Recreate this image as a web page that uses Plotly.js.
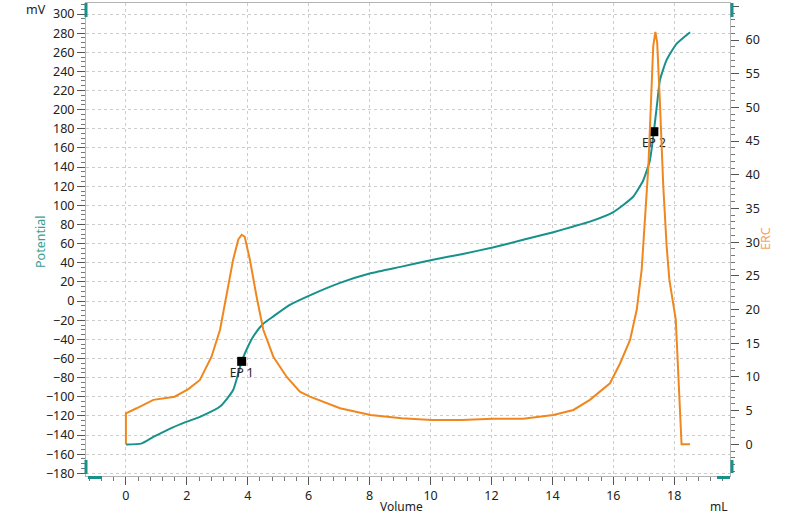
<!DOCTYPE html>
<html>
<head>
<meta charset="utf-8">
<script src="https://cdn.plot.ly/plotly-3.0.1.min.js"></script>
<style>
  html, body { margin: 0; padding: 0; background: #fff; }
  #chart { width: 800px; height: 515px; }
</style>
</head>
<body>
<div id="chart"></div>
<script>
// titration curve
const volPot = [0, 0.5, 0.9, 1.4, 2.0, 2.43, 3.1, 3.52, 3.8, 4.0, 4.18, 4.5, 4.84, 5.38, 6.04, 7.03, 8.03, 9.05, 10.04, 11.02, 12.04, 13.04, 14.03, 14.69, 15.23, 16.0, 16.65, 16.98, 17.2, 17.33, 17.44, 17.53, 17.75, 18.08, 18.52]
const potential = [-150, -149, -142, -134, -126, -121, -110, -93, -63, -48, -37, -24, -16, -4, 6, 19, 29, 36, 43, 49, 56, 64, 72, 78, 83, 93, 109, 126, 147, 177, 207, 231, 252, 269, 281]

const volErc = [0, 0, 0.35, 0.9, 1.6, 2.05, 2.43, 2.81, 3.09, 3.3, 3.52, 3.69, 3.8, 3.9, 4.07, 4.29, 4.51, 4.84, 5.28, 5.71, 6.04, 7.03, 8.03, 9.05, 10.04, 11.02, 12.04, 13.04, 14.03, 14.69, 15.23, 15.89, 16.22, 16.55, 16.77, 16.93, 17.04, 17.15, 17.24, 17.31, 17.38, 17.44, 17.53, 17.64, 17.75, 17.84, 18.05, 18.13, 18.24, 18.52]
const erc = [0, 4.6, 5.35, 6.6, 7.07, 8.2, 9.55, 13.0, 17.0, 21.9, 27.4, 30.4, 31.1, 30.8, 27.4, 21.9, 17.0, 13.0, 10.0, 7.8, 7.07, 5.35, 4.35, 3.86, 3.6, 3.6, 3.8, 3.8, 4.35, 5.1, 6.6, 9.06, 12.0, 15.5, 20.0, 25.9, 33.3, 41.2, 51.2, 59.1, 61.2, 59.6, 50.7, 38.3, 29.4, 24.4, 18.5, 11.0, 0, 0]

// end points
const epVol = [3.8, 17.33]
const epPot = [-63, 177]
const epLabels = ['EP 1', 'EP 2']

const TEAL = '#17918a'
const ORANGE = '#f0871e'
const FONT = 'Noto Sans, Open Sans, sans-serif'

let potTrace = {
    x: volPot,
    y: potential,
    yaxis: 'y',
    mode: 'lines',
    line: {color: TEAL, width: 2, shape: 'spline', smoothing: 0.5},
    name: 'Potential',
    hoverinfo: 'skip'
}

let ercTrace = {
    x: volErc,
    y: erc,
    yaxis: 'y2',
    mode: 'lines',
    line: {color: ORANGE, width: 2},
    name: 'ERC',
    hoverinfo: 'skip'
}

let epTrace = {
    x: epVol,
    y: epPot,
    yaxis: 'y',
    mode: 'markers+text',
    marker: {symbol: 'square', size: 9, color: '#000'},
    text: epLabels,
    textposition: 'bottom center',
    textfont: {family: FONT, size: 12, color: '#222'},
    name: 'EP',
    hoverinfo: 'skip'
}

// plot box in pixels: l 86, r 730, t 3, b 476
const px = (x) => (x - 86) / 644
const py = (y) => (476 - y) / 473

function bar(x0, y0, x1, y1) {
    return {
        type: 'line', xref: 'paper', yref: 'paper',
        x0: px(x0), y0: py(y0), x1: px(x1), y1: py(y1),
        line: {color: TEAL, width: 3}
    }
}

function label(text, x, y, color, angle, size) {
    return {
        text: text, xref: 'paper', yref: 'paper', x: px(x), y: py(y),
        xanchor: 'center', yanchor: 'middle', showarrow: false,
        textangle: angle || 0,
        font: {family: FONT, size: size || 12.5, color: color}
    }
}

let gridStyle = {
    showgrid: true,
    gridcolor: '#cdcdcd',
    griddash: '3px,3px',
    gridwidth: 1
}

let tickFont = {family: FONT, size: 12.5, color: '#222'}

let layout = {
    width: 800,
    height: 515,
    margin: {l: 86, r: 70, t: 3, b: 39},
    paper_bgcolor: '#fff',
    plot_bgcolor: '#fff',
    showlegend: false,
    font: {family: FONT, size: 12, color: '#222'},

    xaxis: Object.assign({
        range: [-1.31, 19.83],
        tick0: 0,
        dtick: 2,
        ticks: 'outside',
        ticklen: 8,
        tickcolor: '#555',
        minor: {dtick: 0.4, tick0: 0, ticks: 'outside', ticklen: 4, tickcolor: '#777', showgrid: false},
        showline: true,
        linecolor: '#b4b4b4',
        mirror: true,
        zeroline: false,
        tickfont: tickFont
    }, gridStyle),

    yaxis: Object.assign({
        range: [-182.8, 311.5],
        tick0: 0,
        dtick: 20,
        ticks: 'outside',
        ticklen: 8,
        tickcolor: '#555',
        minor: {dtick: 5, tick0: 0, ticks: 'outside', ticklen: 4, tickcolor: '#777', showgrid: false},
        showline: true,
        linecolor: '#b4b4b4',
        zeroline: false,
        tickfont: tickFont
    }, gridStyle),

    yaxis2: {
        range: [-4.70, 65.49],
        overlaying: 'y',
        side: 'right',
        tick0: 0,
        dtick: 5,
        ticks: 'outside',
        ticklen: 8,
        tickcolor: '#555',
        minor: {dtick: 1, tick0: 0, ticks: 'outside', ticklen: 4, tickcolor: '#777', showgrid: false},
        showline: true,
        linecolor: '#b4b4b4',
        showgrid: false,
        zeroline: false,
        ticklabelstandoff: 4,
        tickfont: tickFont
    },

    annotations: [
        label('mV', 36, 10, '#222'),
        label('mL', 719, 506, '#222', 0, 12),
        label('Volume', 401, 506, '#222', 0, 12),
        label('Potential', 41, 242, '#3a9d91', -90),
        label('ERC', 765, 239, '#f2a460', -90)
    ],

    // teal handles at the axis ends
    shapes: [
        bar(86, 3, 86, 17),
        bar(86, 460, 86, 474),
        bar(88, 477.5, 102, 477.5),
        bar(732, 3, 732, 17),
        bar(732, 460, 732, 473),
        bar(717, 477.5, 730, 477.5)
    ]
}

Plotly.newPlot('chart', [potTrace, ercTrace, epTrace], layout, {displayModeBar: false, staticPlot: true})
</script>
</body>
</html>
